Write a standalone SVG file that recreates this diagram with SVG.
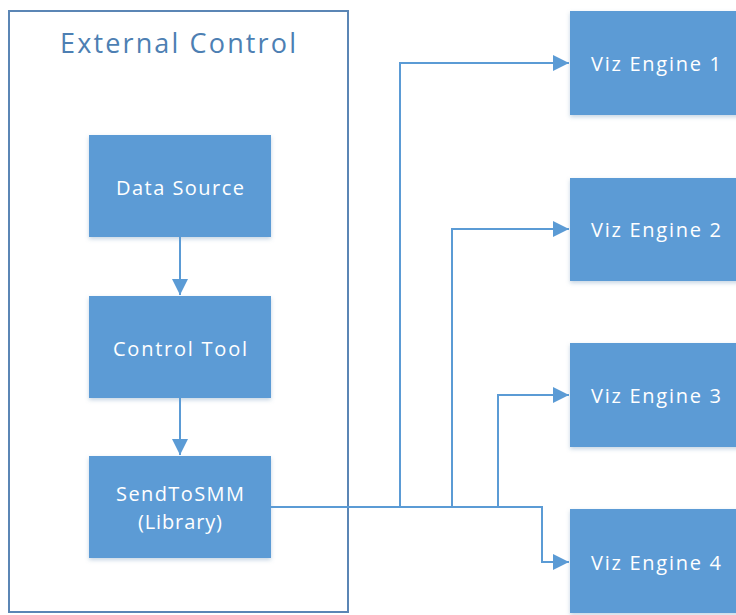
<svg xmlns="http://www.w3.org/2000/svg" width="736" height="615" viewBox="0 0 736 615">
<style>
.box{fill:#5b9bd5;filter:url(#sh)}
.lbl{font-family:"Open Sans","Liberation Sans",sans-serif;font-size:20px;fill:#ffffff;text-anchor:middle;dominant-baseline:central}
.conn{fill:none;stroke:#5b9bd5;stroke-width:2}
.title{font-family:"Open Sans","Liberation Sans",sans-serif;font-size:27px;fill:#4d7fb3;text-anchor:middle}
</style>
<defs>
<filter id="sh" x="-10%" y="-10%" width="120%" height="130%">
<feDropShadow dx="0" dy="2" stdDeviation="2" flood-color="#7f9fc0" flood-opacity="0.45"/>
</filter>
<marker id="arr" viewBox="0 0 10 10" refX="10" refY="5" markerWidth="8" markerHeight="8" orient="auto" markerUnits="strokeWidth">
<path d="M0,0 L10,5 L0,10 z" fill="#5b9bd5"/>
</marker>
</defs>
<rect width="736" height="615" fill="#ffffff"/>
<g id="external-control">
<rect x="9" y="11" width="339" height="601" fill="#ffffff" stroke="#5b86b5" stroke-width="2"/>
<text class="title" x="178" y="53" textLength="236">External  Control</text>
</g>
<g id="data-source">
<rect class="box" x="89" y="135" width="182" height="102"/>
<text class="lbl" x="180" y="187" textLength="128">Data Source</text>
</g>
<g id="control-tool">
<rect class="box" x="89" y="296" width="182" height="102"/>
<text class="lbl" x="180" y="348" textLength="134">Control Tool</text>
</g>
<g id="sendtosmm">
<rect class="box" x="89" y="456" width="182" height="102"/>
<text class="lbl" x="180" y="493" textLength="128">SendToSMM</text>
<text class="lbl" x="180" y="521" textLength="84">(Library)</text>
</g>
<g id="viz1">
<rect class="box" x="570" y="11" width="170" height="104"/>
<text class="lbl" x="656" y="63" textLength="130">Viz Engine 1</text>
</g>
<g id="viz2">
<rect class="box" x="570" y="178" width="170" height="103"/>
<text class="lbl" x="656" y="229" textLength="130">Viz Engine 2</text>
</g>
<g id="viz3">
<rect class="box" x="570" y="343" width="170" height="104"/>
<text class="lbl" x="656" y="395" textLength="130">Viz Engine 3</text>
</g>
<g id="viz4">
<rect class="box" x="570" y="509" width="170" height="104"/>
<text class="lbl" x="656" y="562" textLength="130">Viz Engine 4</text>
</g>
<g id="connectors">
<path class="conn" d="M180,237 V295" marker-end="url(#arr)"/>
<path class="conn" d="M180,398 V455" marker-end="url(#arr)"/>
<path class="conn" d="M271,507 H400 V63 H569" marker-end="url(#arr)"/>
<path class="conn" d="M400,507 H452 V229 H569" marker-end="url(#arr)"/>
<path class="conn" d="M452,507 H498 V395 H569" marker-end="url(#arr)"/>
<path class="conn" d="M498,507 H542 V562 H569" marker-end="url(#arr)"/>
</g>
</svg>
